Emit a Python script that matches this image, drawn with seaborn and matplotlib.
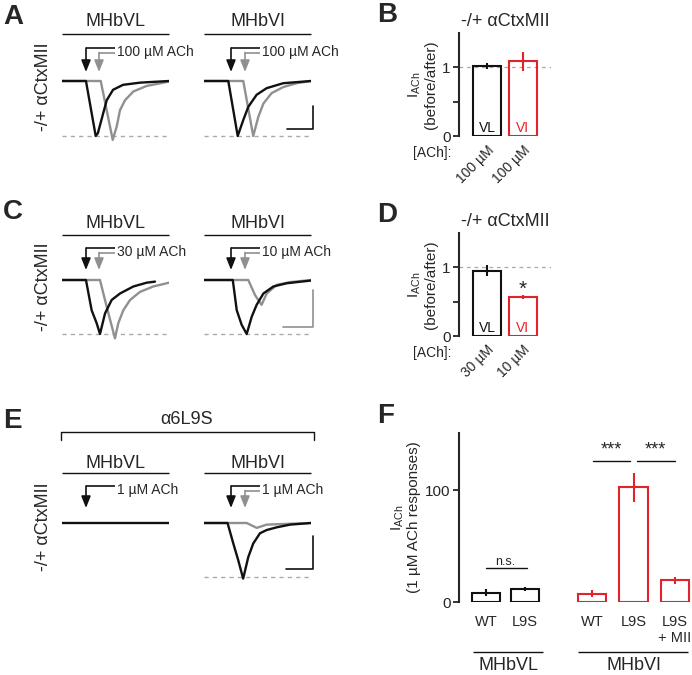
import matplotlib
matplotlib.use("Agg")
import matplotlib.pyplot as plt
import pandas as pd
import seaborn as sns

# ---- trace data (time in % of sweep, current normalised to the peak) ----
A_VL_black_t = [0, 22.4, 31.5, 33.5, 38.6, 41.8, 47.7, 57.0, 72.9, 100]
A_VL_black_i = [0, 0, -1.0, -0.95, -0.58, -0.35, -0.16, -0.07, -0.03, 0]
A_VL_gray_t = [0, 36.2, 47.4, 51.1, 54.2, 58.9, 66.7, 79.1, 100]
A_VL_gray_i = [0, 0, -1.07, -0.83, -0.53, -0.35, -0.19, -0.09, -0.01]
A_VI_black_t = [0, 22.7, 31.5, 36.7, 41.4, 49.2, 58.6, 74.1, 100]
A_VI_black_i = [0, 0, -1.0, -0.71, -0.47, -0.25, -0.13, -0.04, 0]
A_VI_gray_t = [0, 36.7, 46.0, 50.8, 55.5, 63.2, 74.1, 86.6, 100]
A_VI_gray_i = [0, 0, -1.0, -0.65, -0.41, -0.22, -0.11, -0.04, 0]

C_VL_black_t = [0, 22.4, 27.7, 32.4, 35.5, 40.2, 46.4, 54.2, 66.7, 79.1, 86.9]
C_VL_black_i = [0, 0, -0.56, -0.8, -1.0, -0.62, -0.37, -0.25, -0.12, -0.05, -0.03]
C_VL_gray_t = [0, 35.5, 41.7, 49.5, 52.6, 57.3, 63.6, 72.9, 85.3, 100]
C_VL_gray_i = [0, 0, -0.49, -1.08, -0.8, -0.56, -0.37, -0.22, -0.12, -0.05]
C_VI_black_t = [0, 26.9, 30.6, 35.2, 39.9, 44.6, 49.2, 55.5, 64.8, 77.3, 100]
C_VI_black_i = [0, 0, -0.56, -0.83, -1.0, -0.68, -0.46, -0.25, -0.12, -0.06, -0.01]
C_VI_gray_t = [0, 41.4, 47.7, 53.8, 58.6, 68.0, 80.4, 100]
C_VI_gray_i = [0, 0, -0.28, -0.46, -0.25, -0.09, -0.04, 0]

E_VL_black_t = [0, 100]
E_VL_black_i = [0, 0]
E_VI_black_t = [0, 22.0, 27.4, 32.0, 36.6, 41.4, 46.0, 52.3, 58.6, 68.0, 80.4, 100]
E_VI_black_i = [0, 0, -0.38, -0.69, -1.03, -0.63, -0.38, -0.19, -0.13, -0.08, -0.03, 0]
E_VI_gray_t = [0, 39.9, 49.2, 58.6, 100]
E_VI_gray_i = [0, 0, -0.09, -0.03, 0]

# ---- bar data ----
cells = ["VL", "VI"]
B_mean = [1.02, 1.09]
B_sem = [0.05, 0.14]
B_conc = ["100 µM", "100 µM"]
D_mean = [0.95, 0.565]
D_sem = [0.08, 0.03]
D_conc = ["30 µM", "10 µM"]

F_cond = ["VL WT", "VL L9S", "VI WT", "VI L9S", "VI L9S+MII"]
F_ticks = ["WT", "L9S", "WT", "L9S", "L9S\n+ MII"]
F_mean = [8.4, 11.6, 7.5, 102.4, 19.4]
F_sem = [3, 2, 3, 13, 3]

BLACK = "#111111"
GRAY = "#909090"
RED = "#e3232b"
DASH = "#aaaaaa"
W, H = 692, 675

sns.set_style("ticks")
plt.rcParams["font.family"] = ["Liberation Sans", "DejaVu Sans"]

fig = plt.figure(figsize=(W / 100, H / 100), dpi=100)


def px_axes(left, top, right, bottom):
    return fig.add_axes([left / W, 1 - bottom / H, (right - left) / W, (bottom - top) / H])


deco = px_axes(0, 0, W, H)
deco.set_xlim(0, W)
deco.set_ylim(H, 0)
deco.axis("off")


def hline(x0, x1, y, color=BLACK, lw=1.0, **kw):
    deco.plot([x0, x1], [y, y], color=color, lw=lw, solid_capstyle="butt", **kw)


def arrow(x, top, tip, xend, color):
    hline(x, xend, top, color=color, lw=1.2)
    deco.annotate("", xy=(x, tip), xytext=(x, top),
                  arrowprops=dict(arrowstyle="-|>,head_length=0.7,head_width=0.28",
                                  color=color, lw=1.2, shrinkA=0, shrinkB=0))


def trace_ax(left, base, peak, traces, dashed=True):
    s = peak - base
    ax = px_axes(left, base - 0.3 * s, left + 107, base + 1.3 * s)
    ax.set_xlim(0, 100)
    ax.set_ylim(-1.3, 0.3)
    if dashed:
        ax.axhline(-1, ls=(0, (3, 3)), color=DASH, lw=1)
    for t, i, c in traces:
        sns.lineplot(x=t, y=i, ax=ax, color=c, lw=1.7)
    ax.axis("off")
    return ax


def trace_panel(letter, y0, base, peak, left_traces, right_traces, left_conc, right_conc,
                left_gray=True, left_dashed=True, head=22, line=34, arr_top=48, tip=72):
    deco.text(3, y0, letter, fontsize=20, fontweight="bold", va="center", ha="left")
    deco.text(43, (line + peak) / 2 + 2, "-/+ αCtxMII", rotation=90, fontsize=13,
              ha="center", va="center")
    for xl, name in [(62, "MHbVL"), (204, "MHbVI")]:
        deco.text(xl + 53.5, head, name, fontsize=13, ha="center", va="center")
        hline(xl, xl + 107, line)
    trace_ax(62, base, peak, left_traces, dashed=left_dashed)
    trace_ax(204, base, peak, right_traces)
    # application arrows
    arrow(86, arr_top, tip, 115, BLACK)
    if left_gray:
        arrow(99, arr_top + 4.5, tip, 115, GRAY)
    deco.text(117, arr_top + 4, left_conc, fontsize=10, va="center", ha="left")
    arrow(231, arr_top, tip, 260, BLACK)
    arrow(245, arr_top + 4.5, tip, 260, GRAY)
    deco.text(262, arr_top + 4, right_conc, fontsize=10, va="center", ha="left")


# ---- A ----
trace_panel("A", 17, 81, 136,
            [(A_VL_gray_t, A_VL_gray_i, GRAY), (A_VL_black_t, A_VL_black_i, BLACK)],
            [(A_VI_gray_t, A_VI_gray_i, GRAY), (A_VI_black_t, A_VI_black_i, BLACK)],
            "100 µM ACh", "100 µM ACh")
deco.plot([287, 313, 313], [129, 129, 106], color=BLACK, lw=1.2)

# ---- C ----
trace_panel("C", 212, 280, 334,
            [(C_VL_gray_t, C_VL_gray_i, GRAY), (C_VL_black_t, C_VL_black_i, BLACK)],
            [(C_VI_gray_t, C_VI_gray_i, GRAY), (C_VI_black_t, C_VI_black_i, BLACK)],
            "30 µM ACh", "10 µM ACh", head=223, line=235, arr_top=248, tip=270)
deco.plot([283, 313, 313], [327, 327, 290], color=GRAY, lw=1.2)

# ---- E ----
trace_panel("E", 421, 523, 577,
            [(E_VL_black_t, E_VL_black_i, BLACK)],
            [(E_VI_gray_t, E_VI_gray_i, GRAY), (E_VI_black_t, E_VI_black_i, BLACK)],
            "1 µM ACh", "1 µM ACh", left_gray=False, left_dashed=False,
            head=463, line=473, arr_top=486, tip=508)
deco.plot([286, 313, 313], [569, 569, 536], color=BLACK, lw=1.2)
deco.plot([61, 61, 314, 314], [440, 432, 432, 440], color=BLACK, lw=1.0)
deco.text(187, 419, "α6L9S", fontsize=13, ha="center", va="center")


# ---- B and D ----
def ratio_panel(letter, top, means, sems, concs, star=False):
    ax = px_axes(459, top, 551, top + 103)
    sns.barplot(x=cells, y=means, hue=cells, palette=[BLACK, RED], fill=False,
                width=0.78, linewidth=1.5, legend=False, ax=ax)
    for k, c in enumerate([BLACK, RED]):
        ax.errorbar(k, means[k], yerr=sems[k], fmt="none", ecolor=c, elinewidth=1.5, capsize=0)
        ax.text(k, 0.12, cells[k], color=c, fontsize=10, ha="center", va="center")
    ax.axhline(1, ls=(0, (3, 3)), color=DASH, lw=0.9, zorder=0)
    ax.set_ylim(0, 1.5)
    ax.set_xlim(-0.78, 1.78)
    ax.set_yticks([0, 0.5, 1], ["0", "", "1"])
    ax.set_xticks([0, 1], concs, rotation=45, ha="right", rotation_mode="anchor")
    ax.tick_params(axis="y", length=4, width=1.3, labelsize=11, pad=2)
    ax.tick_params(axis="x", length=0, labelsize=10, pad=5)
    ax.set_ylabel("$\\mathregular{I_{ACh}}$\n(before/after)", fontsize=11, labelpad=3,
                  linespacing=1.1)
    ax.set_title("-/+ αCtxMII", fontsize=13, pad=5)
    sns.despine(ax=ax, bottom=True)
    ax.spines["left"].set_linewidth(1.5)
    if star:
        ax.text(1, 0.68, "*", fontsize=15, ha="center", va="center")
    deco.text(377, top - 18, letter, fontsize=20, fontweight="bold", va="center", ha="left")
    deco.text(432, top + 120, "[ACh]:", fontsize=10, ha="center", va="center")


ratio_panel("B", 33, B_mean, B_sem, B_conc)
ratio_panel("D", 233, D_mean, D_sem, D_conc, star=True)

# ---- F ----
F_pos = [0, 0.975, 2.65, 3.69, 4.725]
F_colors = [BLACK, BLACK, RED, RED, RED]
df = pd.DataFrame({"pos": F_pos, "mean": F_mean, "cond": F_cond})
axf = px_axes(459, 433, 692, 602)
sns.barplot(data=df, x="pos", y="mean", hue="cond", palette=F_colors, native_scale=True,
            fill=False, width=0.74, linewidth=1.5, legend=False, errorbar=None, ax=axf)
for p, m, e, c in zip(F_pos, F_mean, F_sem, F_colors):
    axf.errorbar(p, m, yerr=e, fmt="none", ecolor=c, elinewidth=1.5, capsize=0)
axf.set_xlim(-0.675, 5.15)
axf.set_ylim(0, 151)
axf.set_yticks([0, 100])
axf.set_xticks(F_pos, F_ticks, va="top", multialignment="center")
axf.tick_params(axis="y", length=4, width=1.3, labelsize=11, pad=2)
axf.tick_params(axis="x", length=0, labelsize=10.5, pad=9)
axf.set_xlabel("")
axf.set_ylabel("$\\mathregular{I_{ACh}}$\n(1 µM ACh responses)", fontsize=11,
               labelpad=3, linespacing=1.1)
sns.despine(ax=axf, bottom=True)
axf.spines["left"].set_linewidth(1.5)
axf.plot([F_pos[0], F_pos[1] + 0.05], [30.5, 30.5], color=BLACK, lw=1, clip_on=False)
axf.text((F_pos[0] + F_pos[1]) / 2, 36, "n.s.", fontsize=9, ha="center", va="center")
for a, b in [(2.67, 3.6), (3.77, 4.72)]:
    axf.plot([a, b], [126, 126], color=BLACK, lw=1, clip_on=False)
    axf.text((a + b) / 2, 136, "***", fontsize=13, ha="center", va="center")
deco.text(377, 416, "F", fontsize=20, fontweight="bold", va="center", ha="left")
hline(473, 543, 652, lw=1.0)
hline(578, 688, 652, lw=1.0)
deco.text(508, 666, "MHbVL", fontsize=13, ha="center", va="center")
deco.text(634, 666, "MHbVI", fontsize=13, ha="center", va="center")

fig.savefig("out.png", dpi=100)
